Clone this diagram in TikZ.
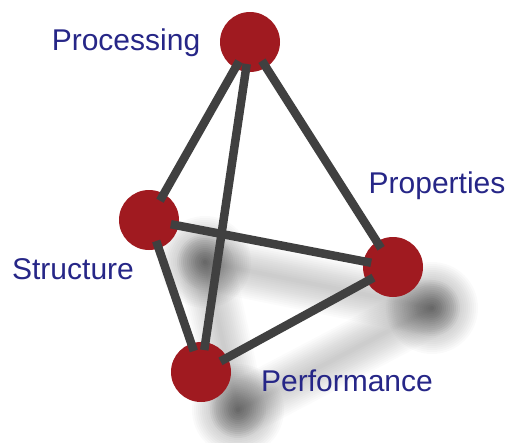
\documentclass[tikz,border=0pt]{standalone}
\usepackage{fontspec}
\setmainfont{Liberation Sans}
\usepackage{tikz}

\definecolor{ballred}{RGB}{160,26,32}
\definecolor{rodgray}{RGB}{64,64,64}
\definecolor{lblblue}{RGB}{38,38,135}

\tikzset{
  ball/.style={circle,fill=ballred,minimum size=60pt,inner sep=0pt},
  rod/.style={rodgray,line width=8.5pt,shorten <=-8pt,shorten >=-8pt},
  lbl/.style={anchor=base,text=lblblue,font=\fontsize{30}{36}\selectfont},
}

\begin{document}
\begin{tikzpicture}[x=1pt,y=-1pt]
    \useasboundingbox (0,0) rectangle (510,442);
    % shadows on the floor
    \coordinate (strsh) at (205,262);
    \coordinate (propsh) at (432,308);
    \coordinate (perfsh) at (238,410);
    \foreach \w in {4,8,...,56}{
      \draw[black,opacity=0.016,line width=\w pt,line cap=round] (strsh) -- (propsh);
      \draw[black,opacity=0.016,line width=\w pt,line cap=round] (perfsh) -- (propsh);
      \draw[black,opacity=0.016,line width=\w pt,line cap=round] (strsh) -- (perfsh);
    }
    \foreach \r in {2,4,...,46}{
      \fill[black,opacity=0.018] (strsh) circle (\r);
      \fill[black,opacity=0.018] (propsh) circle (\r);
      \fill[black,opacity=0.018] (perfsh) circle (\r);
    }
    % balls
    \node[ball](proc) at (250,42) {};
    \node[ball](str) at (149,220) {};
    \node[ball](prop) at (393,267) {};
    \node[ball](perf) at (201,372) {};
    % rods
    \draw[rod] (proc) -- (str);
    \draw[rod] (proc) -- (prop);
    \draw[rod] (proc) -- (perf);
    \draw[rod] (str) -- (prop);
    \draw[rod] (str) -- (perf);
    \draw[rod] (prop) -- (perf);
    % labels
    \node[lbl](proclbl) at (126,50) {Processing};
    \node[lbl](proplbl) at (437,193) {Properties};
    \node[lbl](strlbl) at (73,279) {Structure};
    \node[lbl](perflbl) at (347,391) {Performance};
\end{tikzpicture}
\end{document}
